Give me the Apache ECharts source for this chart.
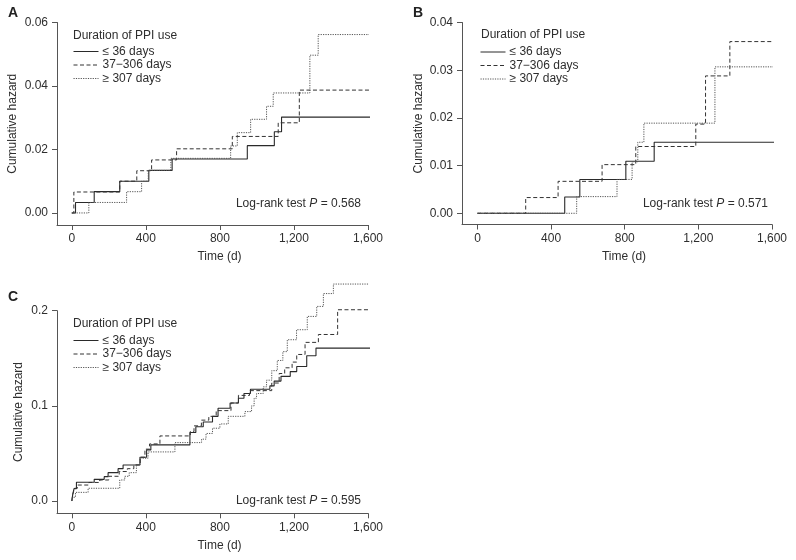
<!DOCTYPE html>
<html>
<head>
<meta charset="utf-8">
<script src="https://cdn.jsdelivr.net/npm/echarts@6/dist/echarts.min.js"></script>
<style>
html,body{margin:0;padding:0;background:#fff;}
#chart{width:796px;height:560px;}
</style>
</head>
<body>
<div id="chart"></div>
<script>
// ---- data ----
const seriesNames = ['≤ 36 days', '37\u2212306 days', '≥ 307 days'];
const xTicks = [0, 400, 800, 1200, 1600];
const yTicksA = [0, 0.02, 0.04, 0.06];
const yTicksB = [0, 0.01, 0.02, 0.03, 0.04];
const yTicksC = [0, 0.1, 0.2];
const pValues = ['0.568', '0.571', '0.595'];

// Panel A: [time (d), cumulative hazard]
const A_short = [[0,0],[20,0.0033],[121,0.0067],[259,0.0100],[416,0.0134],[542,0.0170],[948,0.0212],[1094,0.0256],[1133,0.0302],[1615,0.0302]];
const A_mid   = [[0,0],[11,0.0066],[259,0.0100],[351,0.0133],[431,0.0167],[566,0.0202],[867,0.0241],[1115,0.0284],[1229,0.0387],[1615,0.0387]];
const A_long  = [[0,0],[92,0.0033],[296,0.0067],[377,0.0100],[413,0.0134],[535,0.0172],[858,0.0211],[894,0.0253],[966,0.0295],[1052,0.0336],[1088,0.0378],[1286,0.0497],[1331,0.0562],[1615,0.0562]];

// Panel B
const B_short = [[0,0],[474,0.0034],[556,0.0071],[806,0.0109],[960,0.0149],[1625,0.0149]];
const B_mid   = [[0,0],[262,0.0033],[438,0.0067],[677,0.0102],[860,0.0140],[1186,0.0187],[1239,0.0288],[1371,0.0360],[1625,0.0360]];
const B_long  = [[0,0],[539,0.0035],[758,0.0071],[840,0.0108],[871,0.0149],[904,0.0189],[1290,0.0307],[1625,0.0307]];

// Panel C
const C_short = [[0,0],[5,0.007],[12,0.013],[25,0.0197],[121,0.0228],[175,0.0256],[196,0.0298],[250,0.034],[277,0.0379],[368,0.046],[404,0.0537],[427,0.059],[638,0.072],[670,0.078],[710,0.083],[760,0.089],[790,0.0975],[855,0.103],[900,0.108],[930,0.113],[965,0.1175],[1070,0.121],[1093,0.126],[1130,0.131],[1180,0.136],[1215,0.1414],[1269,0.1526],[1319,0.1607],[1615,0.1607]];
const C_mid   = [[0,0],[5,0.007],[15,0.0134],[30,0.0168],[92,0.0195],[151,0.0221],[200,0.026],[256,0.031],[300,0.034],[335,0.038],[370,0.046],[395,0.0545],[420,0.06],[476,0.0684],[640,0.073],[660,0.079],[700,0.085],[740,0.089],[780,0.095],[860,0.103],[900,0.111],[960,0.116],[1080,0.124],[1120,0.134],[1150,0.14],[1190,0.146],[1215,0.154],[1260,0.1667],[1332,0.175],[1436,0.201],[1615,0.201]];
const C_long  = [[0,0],[5,0.004],[20,0.0091],[88,0.0134],[259,0.0221],[286,0.026],[310,0.0298],[349,0.038],[368,0.045],[412,0.0516],[557,0.0614],[701,0.065],[725,0.071],[760,0.0765],[800,0.081],[845,0.089],[935,0.094],[971,0.1],[985,0.108],[998,0.113],[1034,0.12],[1052,0.127],[1080,0.137],[1110,0.1477],[1140,0.157],[1164,0.1695],[1214,0.18],[1272,0.194],[1323,0.2045],[1359,0.218],[1413,0.228],[1615,0.228]];

// ---- styling / layout ----
const FONT = 'Liberation Sans, Arial, Helvetica, sans-serif';
const TXT = '#2e2e2e';
const AX = '#555';
const lineStyles = [
  {color:'#2a2a2a', width:1.1, type:'solid'},
  {color:'#333', width:1, type:[4,2.5]},
  {color:'#555', width:1, type:[1.2,1.2]}
];

const panels = [
  {letter:'A', grid:{left:57, top:22.5, width:311, height:202.5}, xmin:-80, ymin:-0.0038, ymax:0.06, yTicks:yTicksA, dec:2, data:[A_short,A_mid,A_long], nameGap:38,
   letterPos:[8,13], legendTitle:[73,36], legendTop:45.5, legendLeft:73, pPos:[361,204], p:pValues[0]},
  {letter:'B', grid:{left:462, top:22.5, width:310, height:202}, xmin:-84, ymin:-0.00235, ymax:0.04, yTicks:yTicksB, dec:2, data:[B_short,B_mid,B_long], nameGap:37,
   letterPos:[413,13], legendTitle:[481,35], legendTop:46, legendLeft:480, pPos:[768,204], p:pValues[1]},
  {letter:'C', grid:{left:57, top:310.7, width:311, height:202.6}, xmin:-80, ymin:-0.0129, ymax:0.2, yTicks:yTicksC, dec:1, data:[C_short,C_mid,C_long], nameGap:32,
   letterPos:[8,297.5], legendTitle:[73,323.3], legendTop:334.5, legendLeft:73, pPos:[361,501], p:pValues[2]}
];

const grids = [], xAxes = [], yAxes = [], series = [], legends = [], graphics = [];
panels.forEach((p, i) => {
  grids.push(Object.assign({containLabel:false}, p.grid));
  xAxes.push({
    type:'value', gridIndex:i, min:p.xmin, max:1600,
    axisLine:{show:true, onZero:false, lineStyle:{color:AX, width:1}},
    axisTick:{show:true, length:5, customValues:xTicks, lineStyle:{color:AX}},
    axisLabel:{customValues:xTicks, margin:8, color:TXT, fontSize:12, fontFamily:FONT,
      formatter:v => v.toLocaleString('en-US')},
    splitLine:{show:false},
    name:'Time (d)', nameLocation:'middle', nameGap:26,
    nameTextStyle:{color:TXT, fontSize:12, fontFamily:FONT, padding:[0,0,0,14]}
  });
  yAxes.push({
    type:'value', gridIndex:i, min:p.ymin, max:p.ymax,
    axisLine:{show:true, onZero:false, lineStyle:{color:AX, width:1}},
    axisTick:{show:true, length:5, customValues:p.yTicks, lineStyle:{color:AX}},
    axisLabel:{customValues:p.yTicks, margin:9, color:TXT, fontSize:12, fontFamily:FONT,
      formatter:v => v.toFixed(p.dec)},
    splitLine:{show:false},
    name:'Cumulative hazard', nameLocation:'middle', nameGap:p.nameGap,
    nameTextStyle:{color:TXT, fontSize:12, fontFamily:FONT}
  });
  p.data.forEach((d, k) => {
    series.push({
      type:'line', name:seriesNames[k], xAxisIndex:i, yAxisIndex:i,
      data:d, step:'end', symbol:'none', clip:false, silent:true,
      lineStyle:lineStyles[k], itemStyle:{color:lineStyles[k].color},
      animation:false
    });
  });
  legends.push({
    orient:'vertical', left:p.legendLeft, top:p.legendTop, padding:0,
    itemWidth:25, itemHeight:10, itemGap:1.5,
    itemStyle:{opacity:0, borderWidth:0},
    lineStyle:{width:1},
    data:seriesNames, selectedMode:false,
    textStyle:{color:TXT, fontSize:12, fontFamily:FONT, padding:[0,0,0,-1]}
  });
  graphics.push({
    type:'text', left:p.letterPos[0], top:p.letterPos[1]-7,
    style:{text:p.letter, font:'bold 14px ' + FONT, fill:'#222'}
  });
  graphics.push({
    type:'text', x:p.legendTitle[0], y:p.legendTitle[1],
    style:{text:'Duration of PPI use', font:'12px ' + FONT, fill:TXT, verticalAlign:'middle', align:'left'}
  });
  graphics.push({
    type:'text', x:p.pPos[0], y:p.pPos[1],
    style:{text:'Log-rank test {i|P} = ' + p.p, font:'12px ' + FONT, fill:TXT, align:'right', verticalAlign:'middle',
      rich:{i:{fontStyle:'italic', fontSize:12, fontFamily:FONT, fill:TXT}}}
  });
});

const chart = echarts.init(document.getElementById('chart'), null, {renderer:'canvas'});
chart.setOption({
  animation:false,
  backgroundColor:'#fff',
  grid:grids, xAxis:xAxes, yAxis:yAxes, series:series, legend:legends, graphic:graphics
});
</script>
</body>
</html>
